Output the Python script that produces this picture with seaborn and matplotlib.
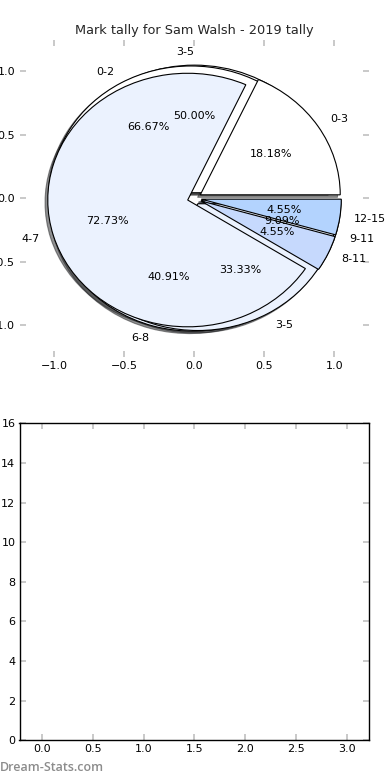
import numpy as np
import matplotlib
matplotlib.use("Agg")
import matplotlib.pyplot as plt
import seaborn as sns

# Mark bands and counts for the three overlaid tallies
bands_a = ["0-3", "4-7", "8-11", "12-15"]
counts_a = [4, 16, 1, 1]

bands_b = ["0-2", "3-5"]
counts_b = [2, 1]

bands_c = ["3-5", "6-8", "9-11"]
counts_c = [11, 9, 2]

# lower panel has no bars showing
bar_x = [0, 1, 2, 3]
bar_y = [0, 0, 0, 0]

wedge_colors = ["#ffffff", "#ebf2fe", "#c6d9fd", "#b3d3fe"]
tick_grey = "#c0c0c0"

sns.set_style("ticks")
plt.rcParams["font.family"] = ["DejaVu Sans", "sans-serif"]

fig, (ax1, ax2) = plt.subplots(2, 1, figsize=(3.9, 7.8), dpi=100)
fig.subplots_adjust(left=0.05, right=0.947, top=0.949, bottom=0.051, hspace=0.21)


def draw_pie(ax, counts, labels):
    ax.pie(counts, labels=labels, colors=wedge_colors[:len(counts)],
           explode=[0.05] * len(counts), autopct="%1.2f%%",
           shadow={"ox": -0.014, "oy": -0.014, "shade": 0.85},
           wedgeprops=dict(edgecolor="black", linewidth=0.8),
           textprops=dict(fontsize=8, color="black"))


# pies drawn one on top of the other
draw_pie(ax1, counts_c, bands_c)
draw_pie(ax1, counts_b, bands_b)
draw_pie(ax1, counts_a, bands_a)

ax1.set_aspect("auto")
ax1.set_frame_on(False)
ax1.set_xlim(-1.25, 1.25)
ax1.set_ylim(-1.25, 1.25)
ax1.set_xticks(np.arange(-1.0, 1.01, 0.5))
ax1.set_yticks(np.arange(-1.0, 1.01, 0.5))
ax1.set_title("Mark tally for Sam Walsh - 2019 tally", fontsize=9.3, pad=4)

# empty count panel
sns.barplot(x=bar_x, y=bar_y, native_scale=True, color="#b3d3fe",
            linewidth=0, ax=ax2)
ax2.set_xlim(-0.22, 3.22)
ax2.set_ylim(0, 16)
ax2.set_xticks(np.arange(0, 3.01, 0.5))
ax2.set_yticks(np.arange(0, 17, 2))
ax2.set_xlabel("")
ax2.set_ylabel("")
for sp in ax2.spines.values():
    sp.set_visible(True)
    sp.set_color("black")
    sp.set_linewidth(1.0)

for ax in (ax1, ax2):
    ax.tick_params(direction="in", length=4, width=1.2, color=tick_grey,
                   labelcolor="black", labelsize=8, top=True, right=True, pad=3)

fig.text(0.0, 0.008, "Dream-Stats.com", color="#8c8c8c", fontsize=9,
         fontfamily="Open Sans", fontweight="semibold", ha="left", va="bottom")

fig.savefig("out.png", dpi=100)
